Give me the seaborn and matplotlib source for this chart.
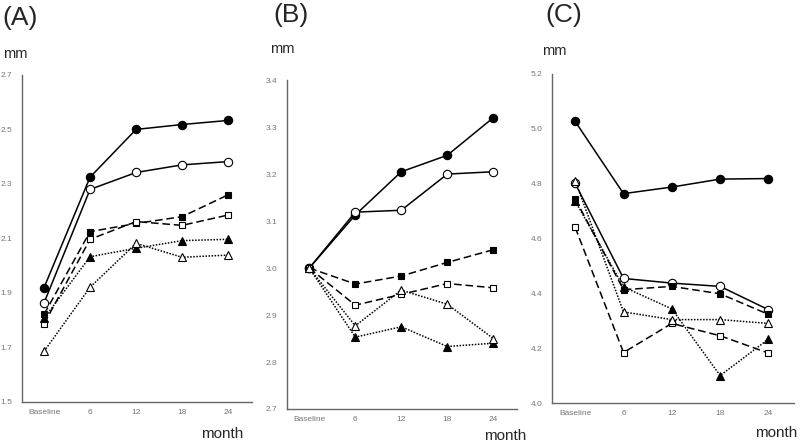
import numpy as np
import pandas as pd
import matplotlib
matplotlib.use("Agg")
import matplotlib.pyplot as plt
import seaborn as sns

# x axis categories
months = ["Baseline", "6", "12", "18", "24"]

# panel (A)
a_filled_circle = [1.92, 2.325, 2.50, 2.518, 2.533]
a_open_circle = [1.864, 2.28, 2.342, 2.37, 2.382]
a_filled_square = [1.822, 2.125, 2.155, 2.18, 2.26]
a_open_square = [1.787, 2.097, 2.162, 2.148, 2.186]
a_filled_triangle = [1.807, 2.033, 2.064, 2.092, 2.097]
a_open_triangle = [1.686, 1.921, 2.082, 2.031, 2.039]

# panel (B)
b_filled_circle = [3.0, 3.113, 3.205, 3.24, 3.32]
b_open_circle = [3.0, 3.119, 3.123, 3.20, 3.205]
b_filled_square = [3.0, 2.966, 2.983, 3.012, 3.039]
b_open_square = [3.0, 2.921, 2.944, 2.967, 2.958]
b_filled_triangle = [3.0, 2.853, 2.875, 2.833, 2.84]
b_open_triangle = [3.0, 2.877, 2.953, 2.923, 2.85]

# panel (C)
c_filled_circle = [5.026, 4.763, 4.787, 4.816, 4.818]
c_open_circle = [4.80, 4.454, 4.437, 4.425, 4.34]
c_filled_square = [4.744, 4.413, 4.425, 4.398, 4.323]
c_open_square = [4.64, 4.184, 4.29, 4.245, 4.182]
c_filled_triangle = [4.736, 4.423, 4.343, 4.10, 4.233]
c_open_triangle = [4.81, 4.332, 4.304, 4.304, 4.29]

# marker / line style of each series (same in all panels)
series_styles = {
    "filled_circle": dict(marker="o", ls="-", mfc="black", ms=6),
    "open_circle": dict(marker="o", ls="-", mfc="white", ms=6),
    "filled_square": dict(marker="s", ls=(0, (5, 2.5)), mfc="black", ms=4.2),
    "open_square": dict(marker="s", ls=(0, (5, 2.5)), mfc="white", ms=4.2),
    "filled_triangle": dict(marker="^", ls=(0, (1, 1)), mfc="black", ms=5.5),
    "open_triangle": dict(marker="^", ls=(0, (1, 1)), mfc="white", ms=5.5),
}

panels = [
    ("(A)", {"filled_circle": a_filled_circle, "open_circle": a_open_circle,
             "filled_square": a_filled_square, "open_square": a_open_square,
             "filled_triangle": a_filled_triangle, "open_triangle": a_open_triangle},
     (1.5, 2.7), [1.5, 1.7, 1.9, 2.1, 2.3, 2.5, 2.7]),
    ("(B)", {"filled_circle": b_filled_circle, "open_circle": b_open_circle,
             "filled_square": b_filled_square, "open_square": b_open_square,
             "filled_triangle": b_filled_triangle, "open_triangle": b_open_triangle},
     (2.7, 3.4), [2.7, 2.8, 2.9, 3.0, 3.1, 3.2, 3.3, 3.4]),
    ("(C)", {"filled_circle": c_filled_circle, "open_circle": c_open_circle,
             "filled_square": c_filled_square, "open_square": c_open_square,
             "filled_triangle": c_filled_triangle, "open_triangle": c_open_triangle},
     (4.0, 5.2), [4.0, 4.2, 4.4, 4.6, 4.8, 5.0, 5.2]),
]

# axes boxes in figure fractions [left, bottom, width, height]
boxes = [
    [0.0275, 0.0905, 0.2875, 0.740],
    [0.359, 0.0747, 0.2875, 0.744],
    [0.690, 0.0882, 0.302, 0.745],
]

# text anchors in axes fractions: panel label, "mm", "month"
label_pos = [(-0.087, 1.138), (-0.061, 1.161), (-0.029, 1.143)]
mm_pos = [(-0.083, 1.052), (-0.074, 1.082), (-0.041, 1.058)]
month_pos = [(0.96, -0.11), (1.04, -0.094), (1.017, -0.103)]

sns.set_style("white")
plt.rcParams["font.family"] = ["Liberation Sans", "DejaVu Sans"]

fig = plt.figure(figsize=(8, 4.42), dpi=100)

for i, ((label, series, ylim, yticks), box) in enumerate(zip(panels, boxes)):
    ax = fig.add_axes(box)
    x = np.arange(len(months))
    for name, vals in series.items():
        st = series_styles[name]
        df = pd.DataFrame({"x": x, "y": vals})
        sns.lineplot(data=df, x="x", y="y", ax=ax, color="black", lw=1.1,
                     marker=st["marker"], linestyle=st["ls"],
                     markerfacecolor=st["mfc"], markeredgecolor="black",
                     markeredgewidth=0.8, markersize=st["ms"])
    ax.set_xlim(-0.48, 4.52)
    ax.set_ylim(*ylim)
    ax.set_xticks(x)
    ax.set_xticklabels(months)
    ax.set_yticks(yticks)
    ax.set_yticklabels([f"{t:.1f}" for t in yticks])
    ax.tick_params(axis="both", length=0, labelsize=6, labelcolor="#777777")
    ax.tick_params(axis="x", pad=5)
    ax.tick_params(axis="y", pad=7)
    ax.set_xlabel("")
    ax.set_ylabel("")
    for side in ["top", "right"]:
        ax.spines[side].set_visible(False)
    for side in ["left", "bottom"]:
        ax.spines[side].set_color("#666666")
        ax.spines[side].set_linewidth(1.0)
    # panel label, unit, axis name
    ax.text(*label_pos[i], label, transform=ax.transAxes, fontsize=19,
            ha="left", va="bottom")
    ax.text(*mm_pos[i], "mm", transform=ax.transAxes, fontsize=10.5,
            ha="left", va="baseline")
    ax.text(*month_pos[i], "month", transform=ax.transAxes, fontsize=11,
            ha="right", va="baseline")

fig.savefig("out.png", dpi=100)
